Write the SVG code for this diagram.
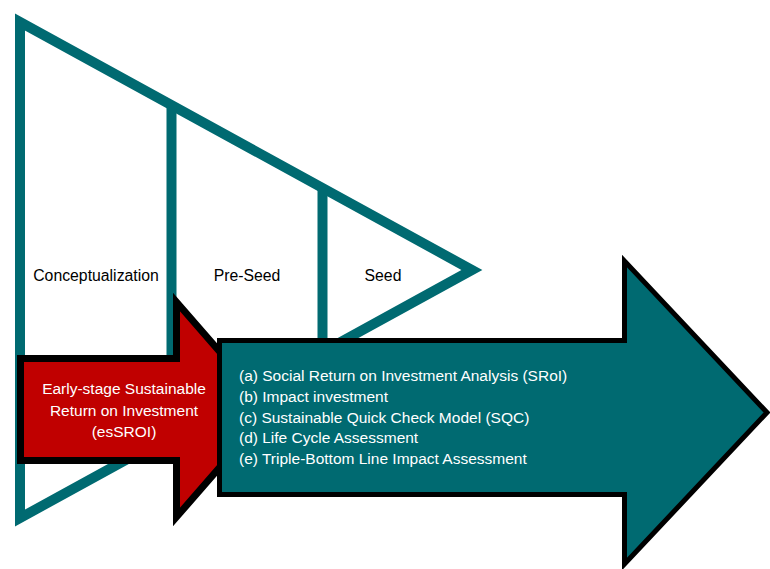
<svg xmlns="http://www.w3.org/2000/svg" width="770" height="569" viewBox="0 0 770 569">
  <style>
    .stage { fill: #ffffff; stroke: #006A71; stroke-width: 10; stroke-linejoin: miter; stroke-miterlimit: 10; }
    .divider { stroke: #006A71; stroke-width: 10; fill: none; }
    .label { font-family: "Liberation Sans", Arial, sans-serif; font-size: 15.8px; fill: #000000; text-anchor: middle; }
    .white { font-family: "Liberation Sans", Arial, sans-serif; font-size: 15.5px; fill: #ffffff; }
    .red-arrow { fill: #C00000; stroke: #000000; stroke-width: 7; stroke-linejoin: miter; stroke-miterlimit: 10; }
    .teal-arrow { fill: #006A71; stroke: #000000; stroke-width: 5; stroke-linejoin: miter; stroke-miterlimit: 10; }
  </style>

  <!-- Stage funnel: triangle split into three phases -->
  <g id="stages">
    <polygon class="stage" points="20,22 20,518 472,270"/>
    <line class="divider" x1="171.5" y1="104" x2="171.5" y2="370"/>
    <line class="divider" x1="322.5" y1="187" x2="322.5" y2="370"/>
  </g>

  <g id="conceptualization">
    <text class="label" x="96" y="281">Conceptualization</text>
  </g>
  <g id="pre-seed">
    <text class="label" x="247" y="281">Pre-Seed</text>
  </g>
  <g id="seed">
    <text class="label" x="383" y="281">Seed</text>
  </g>

  <!-- esSROI arrow -->
  <g id="essroi">
    <polygon class="red-arrow" points="20.5,358.5 176.5,358.5 176.5,302 270,409.5 176.5,517 176.5,460.5 20.5,460.5"/>
    <text class="white" text-anchor="middle" x="124" y="394">Early-stage Sustainable</text>
    <text class="white" text-anchor="middle" x="124" y="416">Return on Investment</text>
    <text class="white" text-anchor="middle" x="124" y="437">(esSROI)</text>
  </g>

  <!-- Methods arrow -->
  <g id="methods">
    <polygon class="teal-arrow" points="219.5,340.5 624.5,340.5 624.5,261 767,412.5 624.5,564 624.5,494.5 219.5,494.5"/>
    <text class="white" x="239" y="381">(a) Social Return on Investment Analysis (SRoI)</text>
    <text class="white" x="239" y="402">(b) Impact investment</text>
    <text class="white" x="239" y="423">(c) Sustainable Quick Check Model (SQC)</text>
    <text class="white" x="239" y="443">(d) Life Cycle Assessment</text>
    <text class="white" x="239" y="464">(e) Triple-Bottom Line Impact Assessment</text>
  </g>

  <g id="connectors"></g>
</svg>
